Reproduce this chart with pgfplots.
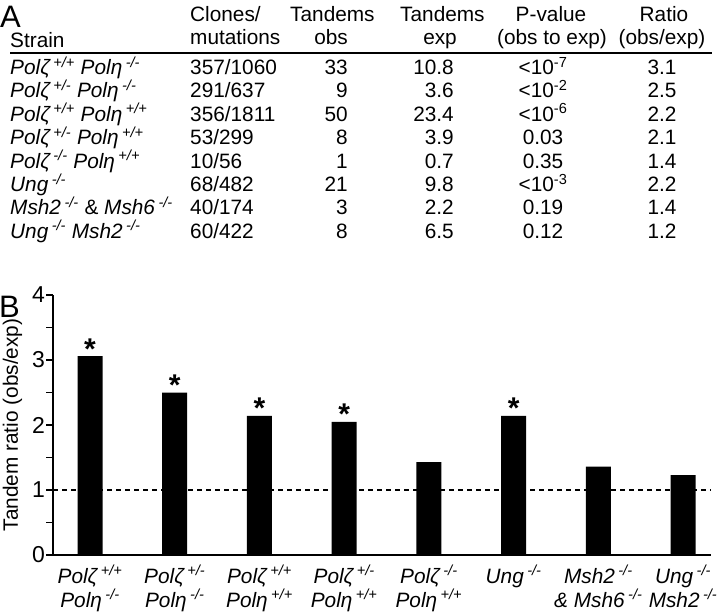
\documentclass[border=0pt]{standalone}
\usepackage{fontspec}
\setmainfont{Liberation Sans}
\usepackage{pgfplots}
\pgfplotsset{compat=1.18}
\newcommand\fs{\fontsize{20.8bp}{25bp}\selectfont}
\newcommand\sq[1]{\textsuperscript{#1}}
\newcommand\cell[4]{\node[anchor=#1, inner sep=0pt, font=\fs] at (#2bp,-#3bp) {#4};}
\begin{document}
\begin{tikzpicture}
\useasboundingbox (0,0) rectangle (727bp,-613bp);
% panel letters
\node[anchor=base west, inner sep=0pt, font=\fontsize{31bp}{31bp}\selectfont] at (0bp,-27bp) {A};
\node[anchor=base west, inner sep=0pt, font=\fontsize{31bp}{31bp}\selectfont] at (-1bp,-317bp) {B};
% table header
\cell{base west}{10}{47}{Strain}
\cell{base west}{190}{21}{Clones/}
\cell{base west}{190}{44}{mutations}
\cell{base west}{290}{21}{Tandems}
\cell{base east}{348}{44}{obs}
\cell{base west}{400}{21}{Tandems}
\cell{base east}{457}{44}{exp}
\cell{base}{551}{21}{P-value}
\cell{base}{552}{44}{(obs to exp)}
\cell{base}{664}{21}{Ratio}
\cell{base}{662}{44}{(obs/exp)}
\draw[line width=1.5bp] (10bp,-53bp) -- (712bp,-53bp);
% rows
\cell{base west}{10}{74.5}{\textit{Polζ\,\sq{+/+} Polη\,\sq{-/-}}}
\cell{base west}{190}{74.5}{357/1060}
\cell{base east}{348}{74.5}{33}
\cell{base east}{454}{74.5}{10.8}
\cell{base}{543}{74.5}{<10\sq{-7}}
\cell{base}{662}{74.5}{3.1}
\cell{base west}{10}{97.9}{\textit{Polζ\,\sq{+/-} Polη\,\sq{-/-}}}
\cell{base west}{190}{97.9}{291/637}
\cell{base east}{348}{97.9}{9}
\cell{base east}{454}{97.9}{3.6}
\cell{base}{543}{97.9}{<10\sq{-2}}
\cell{base}{662}{97.9}{2.5}
\cell{base west}{10}{121.3}{\textit{Polζ\,\sq{+/+} Polη\,\sq{+/+}}}
\cell{base west}{190}{121.3}{356/1811}
\cell{base east}{348}{121.3}{50}
\cell{base east}{454}{121.3}{23.4}
\cell{base}{543}{121.3}{<10\sq{-6}}
\cell{base}{662}{121.3}{2.2}
\cell{base west}{10}{144.7}{\textit{Polζ\,\sq{+/-} Polη\,\sq{+/+}}}
\cell{base west}{190}{144.7}{53/299}
\cell{base east}{348}{144.7}{8}
\cell{base east}{454}{144.7}{3.9}
\cell{base}{543}{144.7}{0.03}
\cell{base}{662}{144.7}{2.1}
\cell{base west}{10}{168.1}{\textit{Polζ\,\sq{-/-} Polη\,\sq{+/+}}}
\cell{base west}{190}{168.1}{10/56}
\cell{base east}{348}{168.1}{1}
\cell{base east}{454}{168.1}{0.7}
\cell{base}{543}{168.1}{0.35}
\cell{base}{662}{168.1}{1.4}
\cell{base west}{10}{191.5}{\textit{Ung\,\sq{-/-}}}
\cell{base west}{190}{191.5}{68/482}
\cell{base east}{348}{191.5}{21}
\cell{base east}{454}{191.5}{9.8}
\cell{base}{543}{191.5}{<10\sq{-3}}
\cell{base}{662}{191.5}{2.2}
\cell{base west}{10}{214.9}{\textit{Msh2\,\sq{-/-}} \& \textit{Msh6\,\sq{-/-}}}
\cell{base west}{190}{214.9}{40/174}
\cell{base east}{348}{214.9}{3}
\cell{base east}{454}{214.9}{2.2}
\cell{base}{543}{214.9}{0.19}
\cell{base}{662}{214.9}{1.4}
\cell{base west}{10}{238.3}{\textit{Ung\,\sq{-/-} Msh2\,\sq{-/-}}}
\cell{base west}{190}{238.3}{60/422}
\cell{base east}{348}{238.3}{8}
\cell{base east}{454}{238.3}{6.5}
\cell{base}{543}{238.3}{0.12}
\cell{base}{662}{238.3}{1.2}
\begin{axis}[
  at={(53bp,-555bp)}, anchor=south west,
  scale only axis, width=658bp, height=260bp,
  xmin=-0.437, xmax=7.33, ymin=0, ymax=4,
  axis x line=bottom, axis y line=left,
  axis line style={-, line width=1.3bp},
  xtick={0,...,7},
  xticklabels={
    {\textit{Polζ\,\sq{+/+}}\\\textit{Polη\,\sq{-/-}}},
    {\textit{Polζ\,\sq{+/-}}\\\textit{Polη\,\sq{-/-}}},
    {\textit{Polζ\,\sq{+/+}}\\\textit{Polη\,\sq{+/+}}},
    {\textit{Polζ\,\sq{+/-}}\\\textit{Polη\,\sq{+/+}}},
    {\textit{Polζ\,\sq{-/-}}\\\textit{Polη\,\sq{+/+}}},
    {\textit{Ung\,\sq{-/-}}},
    {\textit{Msh2\,\sq{-/-}}\\\textit{\& Msh6\,\sq{-/-}}},
    {\textit{Ung\,\sq{-/-}}\\\textit{Msh2\,\sq{-/-}}}},
  xtick style={draw=none},
  ytick={0,1,2,3,4}, minor ytick={0.5,1.5,2.5,3.5},
  tick align=outside, major tick length=7bp, minor tick length=7bp,
  ytick style={black, line width=1.3bp},
  /pgf/number format/assume math mode=true,
  xticklabel style={font=\fontsize{20.8bp}{24bp}\selectfont, align=center, anchor=north, inner sep=0pt, yshift=-3bp},
  yticklabel style={font=\fontsize{23bp}{25bp}\selectfont, anchor=east, inner sep=0pt, xshift=-1bp},
  every axis y label/.style={at={(axis description cs:-0.0616,0.5)}, anchor=center, rotate=90, font=\fs},
  ylabel={Tandem ratio (obs/exp)},
  clip=false,
]
\addplot[black, line width=1.3bp, dash pattern=on 5bp off 4bp] coordinates {(-0.437,1) (7.33,1)};
\addplot[ybar, fill=black, draw=none, bar width=25bp,
  nodes near coords, point meta=explicit symbolic,
  every node near coord/.style={anchor=base, inner sep=0pt, yshift=-3bp, font=\fontsize{30bp}{30bp}\selectfont\bfseries}]
  coordinates {(0,3.06) [*] (1,2.50) [*] (2,2.14) [*] (3,2.05) [*] (4,1.43) [] (5,2.14) [*] (6,1.36) [] (7,1.23) []};
\end{axis}
\end{tikzpicture}
\end{document}
